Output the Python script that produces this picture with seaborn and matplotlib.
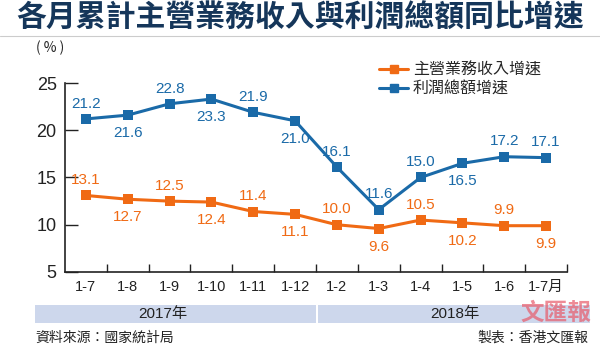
import matplotlib
matplotlib.use("Agg")
import matplotlib.pyplot as plt
import seaborn as sns
import pandas as pd
from matplotlib.patches import Rectangle
from matplotlib.lines import Line2D

sns.set_theme(style="white")
plt.rcParams['font.family'] = ['Noto Sans CJK TC', 'DejaVu Sans']

categories = ["1-7", "1-8", "1-9", "1-10", "1-11", "1-12", "1-2", "1-3", "1-4", "1-5", "1-6", "1-7月"]
revenue = [13.1, 12.7, 12.5, 12.4, 11.4, 11.1, 10.0, 9.6, 10.5, 10.2, 9.9, 9.9]
profit = [21.2, 21.6, 22.8, 23.3, 21.9, 21.0, 16.1, 11.6, 15.0, 16.5, 17.2, 17.1]
revenue_pos = ["a", "b", "a", "b", "a", "b", "a", "b", "a", "b", "a", "b"]
profit_pos = ["a", "b", "a", "b", "a", "b", "a", "a", "a", "b", "a", "a"]
series_names = ["主營業務收入增速", "利潤總額增速"]
years = ["2017年", "2018年"]
yticks = [5, 10, 15, 20, 25]

ORANGE = "#f06a14"
BLUE = "#1a6aa8"
NAVY = "#15365a"
SANS = ['Liberation Sans', 'Noto Sans CJK TC', 'DejaVu Sans']

df = pd.DataFrame({
    "x": list(range(len(categories))) * 2,
    "v": revenue + profit,
    "s": [series_names[0]] * len(revenue) + [series_names[1]] * len(profit),
})

fig = plt.figure(figsize=(6.0, 3.49), dpi=100)
ax = fig.add_axes([65 / 600, 1 - 272 / 349, (567 - 65) / 600, (272 - 83) / 349])

sns.lineplot(data=df, x="x", y="v", hue="s", palette=[ORANGE, BLUE], marker="s",
             markersize=7, markeredgewidth=0, linewidth=2.2, ax=ax, legend=False)

for vals, pos, col in [(revenue, revenue_pos, ORANGE), (profit, profit_pos, BLUE)]:
    for i, (v, p) in enumerate(zip(vals, pos)):
        dy = 11 if p == "a" else -13
        ax.annotate(f"{v:.1f}", (i, v), xytext=(0, dy), textcoords="offset points",
                    ha="center", va="center", color=col, fontsize=11, family=SANS)

ax.set_xlim(-0.5, len(categories) - 0.5)
ax.set_ylim(5, 25)
ax.set_yticks(yticks)
ax.set_yticklabels([str(t) for t in yticks], fontsize=13, family=SANS)
ax.set_xticks(range(len(categories)))
ax.set_xticklabels(categories, fontsize=10.5, family=SANS)
ax.set_xticks([i + 0.5 for i in range(len(categories))], minor=True)
ax.tick_params(axis="x", which="major", length=0, pad=6, colors="#222222")
ax.tick_params(axis="x", which="minor", direction="in", length=6, width=1, color="#222222", bottom=True)
ax.tick_params(axis="y", direction="in", length=9, width=1, color="#222222", left=True, pad=6, colors="#222222")
ax.set_xlabel("")
ax.set_ylabel("")
for s in ["top", "right"]:
    ax.spines[s].set_visible(False)
for s in ["left", "bottom"]:
    ax.spines[s].set_color("#222222")
    ax.spines[s].set_linewidth(1.2)
ax.grid(False)

# legend
handles = [Line2D([0], [0], color=ORANGE, marker="s", markersize=6, lw=2.2),
           Line2D([0], [0], color=BLUE, marker="s", markersize=6, lw=2.2)]
fig.legend(handles, series_names, loc="upper left", bbox_to_anchor=(373 / 600, 1 - 55 / 349),
           frameon=False, fontsize=11.5, handlelength=1.8, handletextpad=0.3, labelspacing=0.15,
           borderaxespad=0)

# title
fig.text(0.5, 1 - 18 / 349, "各月累計主營業務收入與利潤總額同比增速", ha="center", va="center",
         fontsize=21.5, fontweight="bold", color=NAVY)
fig.add_artist(Line2D([0, 1], [1 - 36 / 349, 1 - 36 / 349], color="#cccccc", lw=0.8))
fig.text(50 / 600, 1 - 48 / 349, "( % )", ha="center", va="center", fontsize=10, color="#222222")

# year band
fig.add_artist(Rectangle((35 / 600, 1 - 323 / 349), (316 - 35) / 600, 18 / 349,
                         facecolor="#cdd7ec", edgecolor="none"))
fig.add_artist(Rectangle((318 / 600, 1 - 323 / 349), (590 - 318) / 600, 18 / 349,
                         facecolor="#cdd7ec", edgecolor="none"))
fig.text(163 / 600, 1 - 314 / 349, years[0], ha="center", va="center", fontsize=11, color="#222222", family=SANS)
fig.text(455 / 600, 1 - 314 / 349, years[1], ha="center", va="center", fontsize=11, color="#222222", family=SANS)

# logo-like mark
fig.text(556 / 600, 1 - 313 / 349, "文匯報", ha="center", va="center", fontsize=17,
         fontweight="bold", color="#e85a6a", alpha=0.7)

# footer
fig.text(35 / 600, 1 - 338 / 349, "資料來源：國家統計局", ha="left", va="center", fontsize=10, color="#222222")
fig.text(588 / 600, 1 - 338 / 349, "製表：香港文匯報", ha="right", va="center", fontsize=10, color="#222222")

fig.savefig("out.png", dpi=100)
